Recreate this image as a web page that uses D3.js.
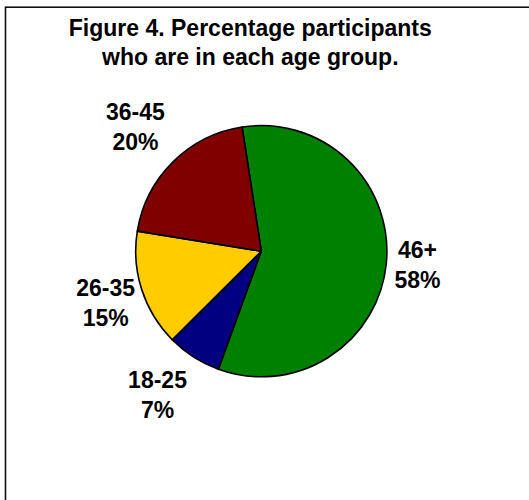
<!DOCTYPE html>
<html>
<head>
<meta charset="utf-8">
<script src="https://cdn.jsdelivr.net/npm/d3@7"></script>
<style>
  html, body { margin: 0; padding: 0; background: #fff; }
  svg { display: block; }
  text { font-family: "Liberation Sans", Arial, sans-serif; font-weight: bold; fill: #000; }
</style>
</head>
<body>
<svg id="chart" width="529" height="500"></svg>
<script>
// ---- data ----
const categories = ["46+", "18-25", "26-35", "36-45"];
const percents = [58, 7, 15, 20];
const colors = ["#008000", "#000080", "#FFCC00", "#800000"];
const titleLines = ["Figure 4. Percentage participants", "who are in each age group."];

// ---- layout constants ----
const W = 529, H = 500;
const cx = 261.3, cy = 251.2, R = 125.6;
const startDeg = -8.8;
const labelDist = [156.8, 177, 164.1, 176.5];   // distance of label centre from pie centre
const labelAngleNudge = [-0.6, 3.3, -0.7, -0.7]; // degrees

const svg = d3.select("#chart");

// outer frame (extends beyond the picture at right and bottom)
svg.append("rect")
  .attr("x", 5.5).attr("y", 7.2)
  .attr("width", 600).attr("height", 600)
  .attr("fill", "none").attr("stroke", "#111").attr("stroke-width", 1.6);

// title
svg.append("g").selectAll("text").data(titleLines).join("text")
  .attr("x", 250.3)
  .attr("y", (d, i) => 36 + i * 28.5)
  .attr("text-anchor", "middle")
  .attr("font-size", 23)
  .text(d => d);

const toRad = d => d * Math.PI / 180;
const pie = d3.pie().sort(null).value(d => d)
  .startAngle(toRad(startDeg)).endAngle(toRad(startDeg + 360));
const arcs = pie(percents);
const arc = d3.arc().innerRadius(0).outerRadius(R);

const g = svg.append("g").attr("transform", `translate(${cx},${cy})`);
g.selectAll("path").data(arcs).join("path")
  .attr("d", arc)
  .attr("fill", (d, i) => colors[i])
  .attr("stroke", "#000")
  .attr("stroke-width", 1.6)
  .attr("stroke-linejoin", "round");

// labels
const lg = g.selectAll("g.lbl").data(arcs).join("g").attr("class", "lbl")
  .attr("transform", (d, i) => {
    const a = (d.startAngle + d.endAngle) / 2 + toRad(labelAngleNudge[i]);
    const r = labelDist[i];
    return `translate(${r * Math.sin(a)},${-r * Math.cos(a)})`;
  });
lg.append("text")
  .attr("text-anchor", "middle").attr("font-size", 23)
  .attr("y", -7)
  .text((d, i) => categories[i]);
lg.append("text")
  .attr("text-anchor", "middle").attr("font-size", 23)
  .attr("y", 23)
  .text(d => d.data + "%");
</script>
</body>
</html>
